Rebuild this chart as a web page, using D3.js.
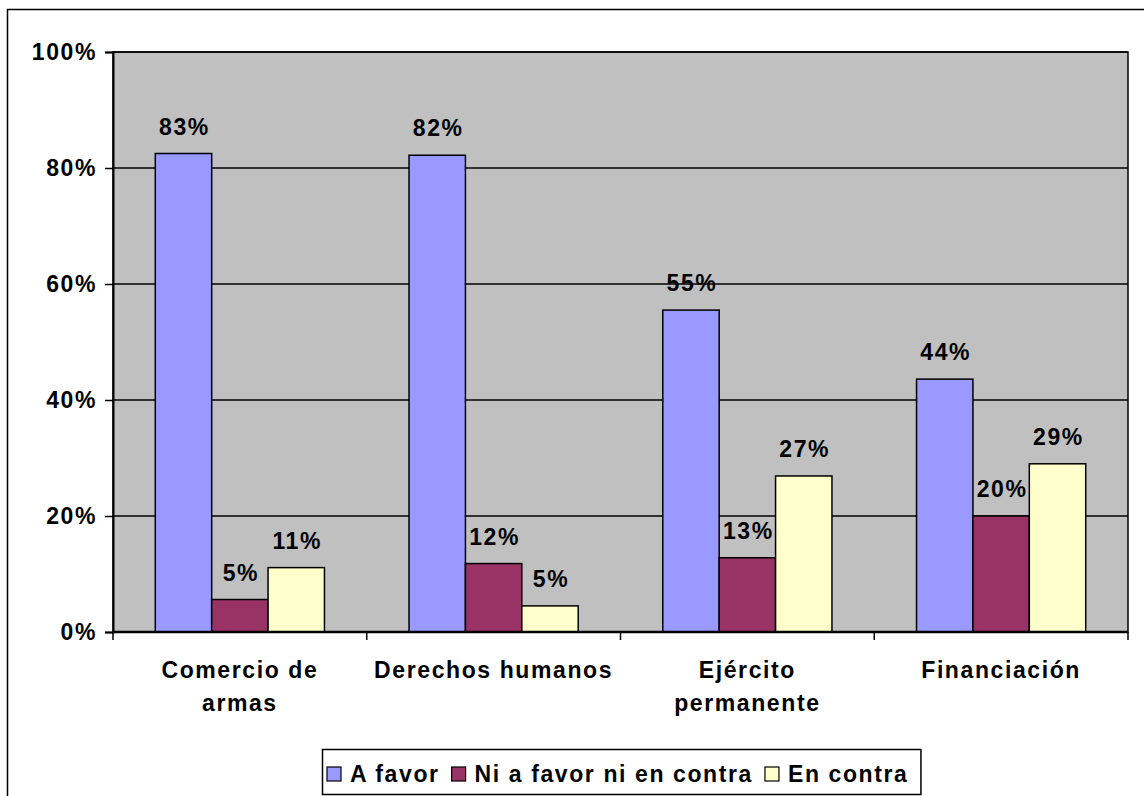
<!DOCTYPE html>
<html>
<head>
<meta charset="utf-8">
<script src="https://cdn.jsdelivr.net/npm/d3@7"></script>
<style>
  body { margin: 0; background: #fff; }
  text { font-family: "Liberation Sans", Arial, sans-serif; font-weight: bold; fill: #000; }
</style>
</head>
<body>
<script>
// Data
var categories = ["Comercio de armas", "Derechos humanos", "Ejército permanente", "Financiación"];
var categoryLines = [["Comercio de", "armas"], ["Derechos humanos"], ["Ejército", "permanente"], ["Financiación"]];
var series = ["A favor", "Ni a favor ni en contra", "En contra"];
var aFavor = [82.5, 82.2, 55.5, 43.6];
var niNi = [5.6, 11.8, 12.8, 20.0];
var enContra = [11.1, 4.5, 26.9, 29.0];
var aFavorLabels = ["83%", "82%", "55%", "44%"];
var niNiLabels = ["5%", "12%", "13%", "20%"];
var enContraLabels = ["11%", "5%", "27%", "29%"];
var yTicks = [0, 20, 40, 60, 80, 100];
var colors = ["#9999FF", "#993366", "#FFFFCC"];

var W = 1144, H = 796;
var margin = {top: 52, right: 16, bottom: 164, left: 113};
var width = W - margin.left - margin.right,
    height = H - margin.top - margin.bottom;
var fontSize = 23, spacing = 1.6;

var svg = d3.select("body").append("svg")
    .attr("width", W)
    .attr("height", H);

// outer chart frame (runs off the page on the right and bottom)
svg.append("rect")
    .attr("x", 7.5).attr("y", 9.5)
    .attr("width", W + 20).attr("height", H + 20)
    .attr("fill", "#fff")
    .attr("stroke", "#000")
    .attr("stroke-width", 1.5);

var chart = svg.append("g")
    .attr("transform", "translate(" + margin.left + "," + margin.top + ")");

var x0 = d3.scaleBand().domain(categories).range([0, width]).paddingInner(0).paddingOuter(0);
var x1 = d3.scaleBand().domain(series).range([0, x0.bandwidth()]).paddingInner(0).paddingOuter(0.75);
var y = d3.scaleLinear().domain([0, 100]).range([height, 0]);

// plot background
chart.append("rect")
    .attr("width", width).attr("height", height)
    .attr("fill", "#C0C0C0");

// gridlines
chart.selectAll(".grid")
    .data(yTicks.filter(function(d) { return d > 0; }))
    .enter().append("line")
    .attr("class", "grid")
    .attr("x1", 0).attr("x2", width)
    .attr("y1", function(d) { return y(d); })
    .attr("y2", function(d) { return y(d); })
    .attr("stroke", "#000")
    .attr("stroke-width", 1.5);

// bars
var rows = categories.map(function(c, i) {
    return [
        {cat: c, s: series[0], v: aFavor[i], label: aFavorLabels[i], color: colors[0]},
        {cat: c, s: series[1], v: niNi[i], label: niNiLabels[i], color: colors[1]},
        {cat: c, s: series[2], v: enContra[i], label: enContraLabels[i], color: colors[2]}
    ];
});
var flat = [].concat.apply([], rows);

chart.selectAll(".bar")
    .data(flat)
    .enter().append("rect")
    .attr("class", "bar")
    .attr("x", function(d) { return x0(d.cat) + x1(d.s); })
    .attr("y", function(d) { return y(d.v); })
    .attr("width", x1.bandwidth())
    .attr("height", function(d) { return height - y(d.v); })
    .attr("fill", function(d) { return d.color; })
    .attr("stroke", "#000")
    .attr("stroke-width", 1.5);

chart.selectAll(".bar-label")
    .data(flat)
    .enter().append("text")
    .attr("class", "bar-label")
    .attr("x", function(d) { return x0(d.cat) + x1(d.s) + x1.bandwidth() / 2 + 1; })
    .attr("y", function(d) { return y(d.v) - 19; })
    .attr("text-anchor", "middle")
    .attr("font-size", fontSize)
    .attr("letter-spacing", spacing)
    .text(function(d) { return d.label; });

// plot border
chart.append("rect")
    .attr("width", width).attr("height", height)
    .attr("fill", "none")
    .attr("stroke", "#000")
    .attr("stroke-width", 1.5);

// y axis
var yAxis = d3.axisLeft(y)
    .tickValues(yTicks)
    .tickSize(8)
    .tickPadding(8)
    .tickFormat(function(d) { return d + "%"; });

var gy = chart.append("g").call(yAxis);
gy.select(".domain").attr("stroke", "#000").attr("stroke-width", 2);
gy.selectAll(".tick line").attr("stroke", "#000").attr("stroke-width", 1.5);
gy.selectAll(".tick text")
    .attr("font-size", fontSize)
    .attr("letter-spacing", spacing)
    .attr("font-family", "Liberation Sans, Arial, sans-serif")
    .attr("font-weight", "bold")
    .attr("fill", "#000");

// x axis: ticks at category boundaries
var bounds = categories.map(function(c) { return x0(c); }).concat([width]);
chart.append("line")
    .attr("x1", 0).attr("x2", width)
    .attr("y1", height).attr("y2", height)
    .attr("stroke", "#000")
    .attr("stroke-width", 2.5);
chart.selectAll(".xtick")
    .data(bounds)
    .enter().append("line")
    .attr("class", "xtick")
    .attr("x1", function(d) { return d; })
    .attr("x2", function(d) { return d; })
    .attr("y1", height).attr("y2", height + 8)
    .attr("stroke", "#000")
    .attr("stroke-width", 1.5);

// category labels
var catLabels = chart.selectAll(".cat-label")
    .data(categories)
    .enter().append("text")
    .attr("class", "cat-label")
    .attr("text-anchor", "middle")
    .attr("font-size", fontSize)
    .attr("letter-spacing", spacing)
    .attr("transform", function(d) { return "translate(" + (x0(d) + x0.bandwidth() / 2) + "," + (height + 46) + ")"; });

catLabels.each(function(d, i) {
    var t = d3.select(this);
    categoryLines[i].forEach(function(line, j) {
        t.append("tspan")
            .attr("x", 0)
            .attr("y", j * 33)
            .text(line);
    });
});

// legend
var legend = svg.append("g").attr("transform", "translate(322,749)");
var legendBox = legend.append("rect")
    .attr("x", 0.5).attr("y", 0.5)
    .attr("height", 45)
    .attr("fill", "#fff")
    .attr("stroke", "#000")
    .attr("stroke-width", 1.5);

var lx = 5;
series.forEach(function(s, i) {
    legend.append("rect")
        .attr("x", lx).attr("y", 18)
        .attr("width", 14).attr("height", 14)
        .attr("fill", colors[i])
        .attr("stroke", "#000")
        .attr("stroke-width", 1.2);
    var t = legend.append("text")
        .attr("x", lx + 23)
        .attr("y", 33)
        .attr("font-size", fontSize)
        .attr("letter-spacing", 1.6)
        .text(s);
    lx += 23 + t.node().getComputedTextLength() + 12;
});
legendBox.attr("width", lx);
</script>
</body>
</html>
